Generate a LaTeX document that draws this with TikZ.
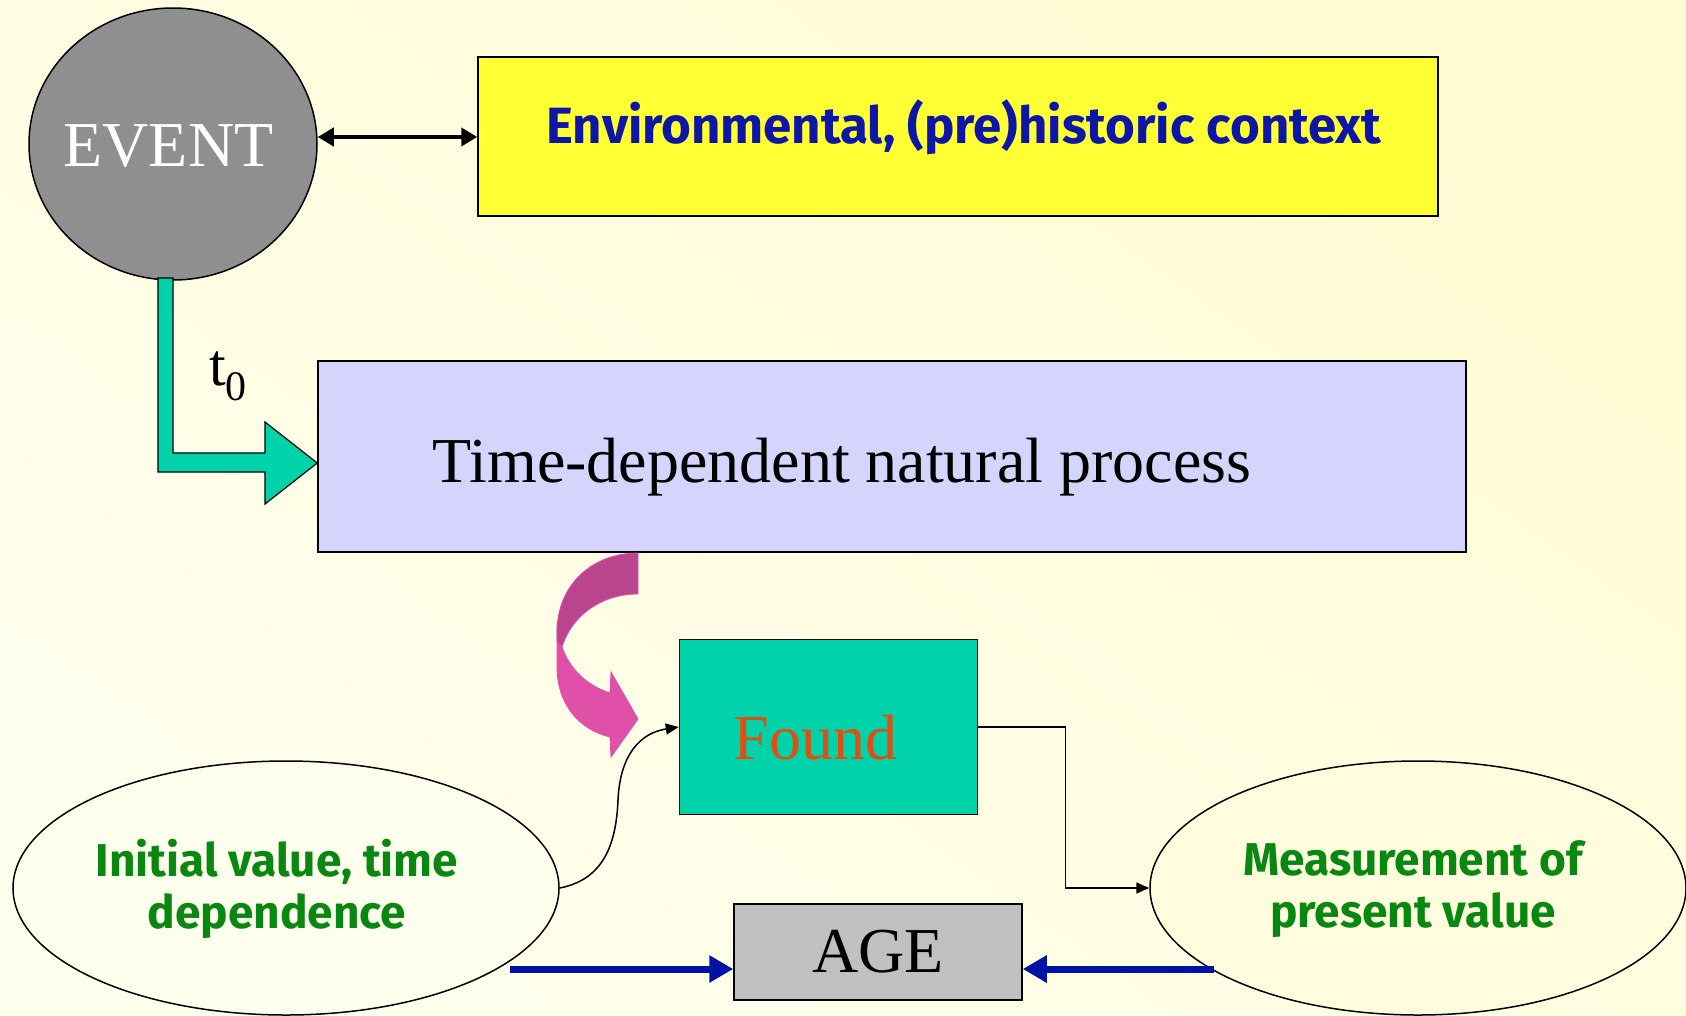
\documentclass[tikz,border=0pt]{standalone}
\usepackage{fontspec}
\setmainfont{Liberation Serif}
\newfontfamily\comicfont{Fira Sans}
\usetikzlibrary{arrows.meta,shapes.geometric}
\definecolor{bgA}{RGB}{255,252,212}
\definecolor{bgB}{RGB}{255,255,238}
\definecolor{bgC}{RGB}{255,253,222}
\definecolor{evgray}{RGB}{143,143,143}
\definecolor{envyellow}{RGB}{255,255,51}
\definecolor{lav}{RGB}{212,212,252}
\definecolor{teal}{RGB}{0,210,170}
\definecolor{pinkL}{RGB}{224,80,168}
\definecolor{pinkD}{RGB}{186,68,142}
\definecolor{agegray}{RGB}{192,192,192}
\definecolor{txtblue}{RGB}{14,22,168}
\definecolor{txtgreen}{RGB}{8,136,16}
\definecolor{txtorange}{RGB}{224,78,18}
\definecolor{arrblue}{RGB}{0,18,164}
\begin{document}
\begin{tikzpicture}[x=1pt,y=-1pt,
  boxed/.style={draw=black, line width=1.5pt, inner sep=0pt},
  serifbig/.style={font=\fontsize{64}{70}\selectfont},
  comic/.style={font=\comicfont\bfseries\fontsize{46}{52}\selectfont, align=center, inner sep=0pt},
  thinarrow/.style={line width=1.5pt, -{Triangle[length=13pt,width=11pt]}},
  bluearrow/.style={draw=arrblue, line width=7pt, -{Triangle[length=24pt,width=26pt]}},
  dblarrow/.style={line width=4.5pt, {Triangle[length=16pt,width=18pt]}-{Triangle[length=16pt,width=18pt]}}]
\useasboundingbox (0,0) rectangle (1686,1015);
\shade[top color=bgA, bottom color=bgB, shading angle=-35] (0,0) rectangle (1686,1015);

% nodes
\node (event) [ellipse, boxed, fill=evgray, minimum width=288pt, minimum height=272pt] at (173,144) {};
\node (eventtxt) [anchor=base, serifbig, text=white, inner sep=0pt] at (168.5,166) {EVENT};
\node (env) [rectangle, boxed, fill=envyellow, minimum width=960pt, minimum height=159pt] at (958,136.5) {};
\node (envtxt) [anchor=base, comic, text=txtblue, font=\comicfont\bfseries\fontsize{51}{52}\selectfont] at (964,143) {Environmental, (pre)historic context};
\node (proc) [rectangle, boxed, fill=lav, minimum width=1148pt, minimum height=191pt] at (892,456.5) {};
\node (proctxt) [anchor=base, serifbig, inner sep=0pt] at (842,482) {Time-dependent natural process};
\node (found) [rectangle, boxed, fill=teal, minimum width=298pt, minimum height=175pt] at (828.5,727) {};
\node (foundtxt) [anchor=base, serifbig, text=txtorange, inner sep=0pt] at (815.5,759) {Found};
\node (init) [ellipse, draw=black, line width=1.5pt, fill=bgB, minimum width=546pt, minimum height=254pt, inner sep=0pt] at (286,888) {};
\node (inittxt) [comic, text=txtgreen] at (277,889) {Initial value, time\\dependence};
\node (meas) [ellipse, draw=black, line width=1.5pt, fill=bgC, minimum width=536pt, minimum height=254pt, inner sep=0pt] at (1418,888) {};
\node (meastxt) [comic, text=txtgreen] at (1413,889) {Measurement of\\present value};
\node (age) [rectangle, boxed, fill=agegray, minimum width=288pt, minimum height=96pt, serifbig] at (878,952) {AGE};
\node (tlabel) [anchor=base west, inner sep=0pt, font=\fontsize{60}{60}\selectfont] at (209,385) {t\raisebox{-15pt}{\fontsize{42}{42}\selectfont 0}};

% double arrow event <-> env
\draw[dblarrow] ([yshift=7pt]event.east) -- ([yshift=7pt]event.east -| env.west);

% teal bent arrow
\draw[fill=teal, line width=1.2pt, line join=miter]
  (158,278) -- (173,278) -- (173,453) -- (265,453) -- (265,422) -- (proc.west |- 0,463)
  -- (265,504) -- (265,472) -- (158,472) -- cycle;

% pink curved arrow
\fill[pinkL, draw=pinkL, line width=0.8pt]
  (557,625) -- (557,667) .. controls (557,705) and (580,730) .. (610,737)
  -- (611,757) -- (638,719) -- (611,672) -- (610,693)
  .. controls (588,686) and (570,670) .. (562,647) -- cycle;
\fill[pinkD, draw=pinkL, line width=0.8pt]
  (638,553) .. controls (592,553) and (557,585) .. (557,632) -- (557,642) -- (562,647)
  .. controls (572,615) and (602,594) .. (638,594) -- cycle;

% connectors
\draw[thinarrow] (init.east) .. controls (600,880) and (616,850) .. (618,800)
  .. controls (620,755) and (640,733) .. (found.west);
\draw[thinarrow] (found.east) -- ++(87,0) |- (meas.west);

% blue arrows to AGE
\coordinate (bl) at (510,969);
\coordinate (br) at (1214,969);
\draw[bluearrow] (bl) -- (bl -| age.west);
\draw[bluearrow] (br) -- (br -| age.east);
\end{tikzpicture}
\end{document}
